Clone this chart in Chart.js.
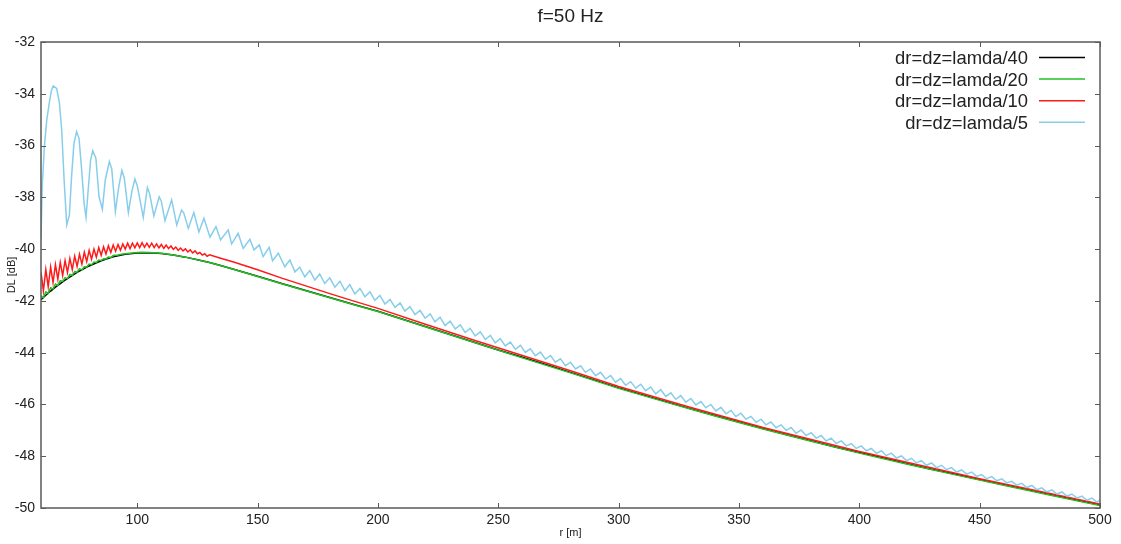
<!DOCTYPE html>
<html>
<head>
<meta charset="utf-8">
<script src="https://cdn.jsdelivr.net/npm/chart.js@4.4.1/dist/chart.umd.min.js"></script>
<style>
  html, body { margin: 0; padding: 0; background: #fff; }
</style>
</head>
<body>
<canvas id="chart" width="1121" height="544"></canvas>
<script>
// axis ticks
const xTicks = [100, 150, 200, 250, 300, 350, 400, 450, 500];
const yTicks = [-32, -34, -36, -38, -40, -42, -44, -46, -48, -50];

const seriesNames = ['dr=dz=lamda/40', 'dr=dz=lamda/20', 'dr=dz=lamda/10', 'dr=dz=lamda/5'];

// dr=dz=lamda/40
const blackR = [60, 62, 64, 66, 68, 70, 75, 80, 85, 90, 95, 100, 105, 110, 115, 120, 125, 130, 135, 140, 150,
  160, 170, 180, 190, 200, 210, 220, 230, 240, 250, 260, 270, 280, 290, 300, 310, 320, 330, 340, 350,
  360, 370, 380, 390, 400, 410, 420, 430, 440, 450, 460, 470, 480, 490, 500];
const blackDL = [-41.95, -41.78, -41.62, -41.47, -41.33, -41.2, -40.9, -40.65, -40.45, -40.3, -40.2, -40.15, -40.14, -40.17, -40.23, -40.31, -40.41, -40.52, -40.64, -40.78, -41.05,
  -41.33, -41.6, -41.87, -42.14, -42.4, -42.7, -43.0, -43.3, -43.6, -43.9, -44.18, -44.47, -44.76, -45.06, -45.36, -45.63, -45.9, -46.17, -46.43, -46.68,
  -46.93, -47.17, -47.4, -47.64, -47.86, -48.07, -48.29, -48.5, -48.7, -48.9, -49.1, -49.3, -49.5, -49.69, -49.88];

// dr=dz=lamda/20
const greenR = [60, 61, 62, 63, 64, 65, 66, 67, 68, 69, 70, 71, 72, 73, 74, 75, 76, 77, 78, 79, 80, 81, 82, 83, 84, 85, 86, 87, 88, 89, 90,
  92, 94, 96, 98, 100, 102, 105, 110, 115, 120, 130, 140, 150, 160, 170, 180, 190, 200, 220, 240, 260, 280, 300, 320, 340, 360, 380, 400, 420, 440, 460, 480, 500];
const greenDL = [-41.81, -41.88, -41.65, -41.71, -41.49, -41.54, -41.35, -41.40, -41.22, -41.25, -41.10, -41.14, -40.98, -41.01, -40.87, -40.89, -40.76, -40.80, -40.68, -40.69,
  -40.58, -40.60, -40.50, -40.52, -40.42, -40.44, -40.37, -40.38, -40.31, -40.32, -40.25,
  -40.23, -40.19, -40.17, -40.15, -40.13, -40.12, -40.13, -40.16, -40.23, -40.31, -40.52, -40.78, -41.06, -41.34, -41.61, -41.88, -42.15, -42.41, -43.01, -43.61, -44.2, -44.78,
  -45.38, -45.92, -46.45, -46.95, -47.42, -47.88, -48.31, -48.72, -49.12, -49.52, -49.9];

// dr=dz=lamda/10
const redR = [60, 61, 62, 63, 64, 65, 66, 67, 68, 69, 70, 71, 72, 73, 74, 75, 76, 77, 78, 79, 80, 81, 82, 83, 84, 85, 86, 87, 88, 89,
  90, 91, 92, 93, 94, 95, 96, 97, 98, 99, 100, 101, 102, 103, 104, 105, 106, 107, 108, 109, 110, 111, 112, 113, 114, 115, 116, 117, 118, 119,
  120, 121, 122, 123, 124, 125, 126, 127, 128, 129, 130,
  135, 140, 150, 160, 170, 180, 190, 200, 220, 240, 260, 280, 300, 330, 360, 400, 450, 500];
const redDL = [-40.90, -41.61, -40.79, -41.45, -40.69, -41.29, -40.60, -41.16, -40.51, -41.02, -40.44, -40.90, -40.36, -40.79, -40.27, -40.67, -40.20, -40.58, -40.12, -40.48,
  -40.05, -40.39, -40.00, -40.31, -39.94, -40.24, -39.91, -40.19, -39.87, -40.13,
  -39.84, -40.08, -39.82, -40.04, -39.80, -40.00, -39.77, -39.98, -39.77, -39.95, -39.76, -39.94, -39.75, -39.93, -39.77, -39.93, -39.77, -39.94, -39.80, -39.95,
  -39.82, -39.97, -39.84, -39.98, -39.88, -40.01, -39.92, -40.05, -39.96, -40.07,
  -39.99, -40.11, -40.03, -40.15, -40.07, -40.18, -40.13, -40.23, -40.18, -40.28, -40.22,
  -40.36, -40.50, -40.80, -41.12, -41.42, -41.72, -42.01, -42.29, -42.91, -43.52, -44.11, -44.70, -45.31, -46.12, -46.89, -47.82, -48.87, -49.85];

// dr=dz=lamda/5
const blueR = [60.0, 60.5, 61.4, 62.4, 63.5, 64.4, 65.1, 66.5, 67.6, 68.6, 69.6, 70.7, 71.8, 72.7, 73.7, 74.8, 75.8, 76.9, 77.9, 78.7,
  79.6, 80.6, 81.5, 82.8, 84.1, 85.5, 86.7, 88.4, 89.4, 90.9, 92.3, 93.6, 94.6, 96.3, 97.7, 99.0, 100.0, 102.5, 104.2, 105.1,
  106.9, 109.1, 110.0, 111.5, 114.3, 116.4, 118.4, 119.3, 121.2, 123.5, 125.6, 127.7, 130.2, 132.7, 134.6, 137.8, 139.2, 141.9, 144.0, 146.8,
  148.5, 150.7, 152.3, 154.8, 156.2, 158.6,
  161.3, 163.4, 165.5, 167.5, 169.6, 171.7, 173.8, 175.8, 177.9, 180.0,
  182.1, 184.2, 186.3, 188.3, 190.4, 192.5, 194.6, 196.7, 198.7, 200.8,
  202.9, 205.0, 207.1, 209.2, 211.2, 213.3, 215.4, 217.5, 219.6, 221.7,
  223.7, 225.8, 227.9, 230.0, 232.1, 234.2, 236.2, 238.3, 240.4, 242.5,
  244.6, 246.7, 248.7, 250.8, 252.9, 255.0, 257.1, 259.2, 261.2, 263.3,
  265.4, 267.5, 269.6, 271.7, 273.7, 275.8, 277.9, 280.0, 282.1, 284.2,
  286.2, 288.3, 290.4, 292.5, 294.6, 296.7, 298.7, 300.8, 302.9, 305.0,
  307.1, 309.2, 311.2, 313.3, 315.4, 317.5, 319.6, 321.7, 323.7, 325.8,
  327.9, 330.0, 332.1, 334.2, 336.2, 338.3, 340.4, 342.5, 344.6, 346.7,
  348.7, 350.8, 352.9, 355.0, 357.1, 359.2, 361.2, 363.3, 365.4, 367.5,
  369.6, 371.7, 373.7, 375.8, 377.9, 380.0, 382.1, 384.2, 386.2, 388.3,
  390.4, 392.5, 394.6, 396.7, 398.7, 400.8, 402.9, 405.0, 407.1, 409.2,
  411.2, 413.3, 415.4, 417.5, 419.6, 421.7, 423.7, 425.8, 427.9, 430.0,
  432.1, 434.2, 436.2, 438.3, 440.4, 442.5, 444.6, 446.7, 448.7, 450.8,
  452.9, 455.0, 457.1, 459.2, 461.2, 463.3, 465.4, 467.5, 469.6, 471.7,
  473.7, 475.8, 477.9, 480.0, 482.1, 484.2, 486.2, 488.3, 490.4, 492.5,
  494.6, 496.7, 498.7, 500.0];
const blueDL = [-39.6, -37.59, -36.04, -35.01, -34.31, -33.85, -33.70, -33.79, -34.31, -35.4, -37.33, -39.07, -38.68, -37.2, -35.91, -35.46, -35.72, -36.94, -38.23, -38.77,
  -37.72, -36.56, -36.2, -36.49, -37.97, -38.46, -37.33, -36.62, -36.9, -38.55, -37.6, -36.96, -37.25, -38.59, -37.8, -37.29, -37.55, -38.77, -37.62, -37.85,
  -38.72, -37.98, -38.15, -38.90, -38.10, -39.07, -38.49, -38.6, -39.20, -38.59, -39.34, -38.81, -39.54, -39.13, -39.65, -39.26, -39.80, -39.39, -39.97, -39.62,
  -40.03, -39.84, -40.29, -39.93, -40.45, -40.16,
  -40.68, -40.42, -40.88, -40.70, -41.07, -40.83, -41.20, -40.96, -41.33, -41.11,
  -41.47, -41.24, -41.60, -41.37, -41.73, -41.52, -41.84, -41.65, -41.98, -41.79,
  -42.12, -41.94, -42.25, -42.08, -42.39, -42.22, -42.53, -42.37, -42.67, -42.50,
  -42.81, -42.63, -42.95, -42.78, -43.08, -42.93, -43.22, -43.06, -43.35, -43.20,
  -43.49, -43.33, -43.62, -43.46, -43.74, -43.59, -43.87, -43.72, -43.99, -43.85,
  -44.12, -43.98, -44.25, -44.11, -44.37, -44.24, -44.50, -44.37, -44.63, -44.51,
  -44.76, -44.63, -44.89, -44.76, -45.02, -44.88, -45.14, -45.00, -45.26, -45.12,
  -45.37, -45.22, -45.47, -45.33, -45.59, -45.43, -45.69, -45.55, -45.80, -45.66,
  -45.91, -45.77, -46.02, -45.89, -46.13, -46.00, -46.25, -46.11, -46.36, -46.23,
  -46.47, -46.34, -46.57, -46.46, -46.69, -46.57, -46.79, -46.68, -46.90, -46.79,
  -47.00, -46.89, -47.11, -46.99, -47.20, -47.09, -47.30, -47.20, -47.41, -47.30,
  -47.51, -47.41, -47.60, -47.51, -47.70, -47.60, -47.79, -47.70, -47.89, -47.79,
  -47.98, -47.88, -48.07, -47.99, -48.17, -48.08, -48.26, -48.17, -48.35, -48.26,
  -48.44, -48.35, -48.52, -48.44, -48.61, -48.53, -48.69, -48.61, -48.78, -48.71,
  -48.87, -48.79, -48.95, -48.87, -49.03, -48.97, -49.12, -49.05, -49.21, -49.13,
  -49.29, -49.22, -49.38, -49.30, -49.46, -49.38, -49.54, -49.46, -49.62, -49.54,
  -49.70, -49.62, -49.77, -49.70];

const seriesColors = ['#000000', '#22c022', '#ff1a1a', '#87ceeb'];

Chart.defaults.font.family = "'Liberation Sans', Arial, sans-serif";
Chart.defaults.color = '#222';

const toPoints = (r, dl) => r.map((x, i) => ({ x, y: dl[i] }));

// frame with inward ticks on all four sides, plus a gnuplot-like key
const framePlugin = {
  id: 'frame',
  afterDraw(chart) {
    const { ctx, chartArea: a, scales } = chart;
    ctx.save();
    ctx.strokeStyle = '#5a5a5a';
    ctx.lineWidth = 1.5;
    ctx.strokeRect(a.left, a.top, a.right - a.left, a.bottom - a.top);
    ctx.lineWidth = 1;
    ctx.beginPath();
    xTicks.forEach(v => {
      const px = Math.round(scales.x.getPixelForValue(v)) + 0.5;
      ctx.moveTo(px, a.bottom); ctx.lineTo(px, a.bottom - 5);
      ctx.moveTo(px, a.top); ctx.lineTo(px, a.top + 5);
    });
    yTicks.forEach(v => {
      const py = Math.round(scales.y.getPixelForValue(v)) + 0.5;
      ctx.moveTo(a.left, py); ctx.lineTo(a.left + 5, py);
      ctx.moveTo(a.right, py); ctx.lineTo(a.right - 5, py);
    });
    ctx.stroke();

    // key
    ctx.font = "18.4px 'Liberation Sans', Arial, sans-serif";
    ctx.fillStyle = '#222';
    ctx.textAlign = 'right';
    ctx.textBaseline = 'middle';
    seriesNames.forEach((name, i) => {
      const y = 57.5 + i * 21.6;
      ctx.fillText(name, 1028, y + 1.5);
      ctx.strokeStyle = seriesColors[i];
      ctx.lineWidth = 1.5;
      ctx.beginPath();
      ctx.moveTo(1039, y);
      ctx.lineTo(1085, y);
      ctx.stroke();
    });
    ctx.restore();
  }
};

const lineStyle = (i, order) => ({
  borderColor: seriesColors[i],
  backgroundColor: seriesColors[i],
  borderWidth: 1.5,
  pointRadius: 0,
  tension: 0,
  fill: false,
  order
});

new Chart(document.getElementById('chart'), {
  type: 'line',
  data: {
    datasets: [
      { label: seriesNames[0], data: toPoints(blackR, blackDL), ...lineStyle(0, 3) },
      { label: seriesNames[1], data: toPoints(greenR, greenDL), ...lineStyle(1, 2) },
      { label: seriesNames[2], data: toPoints(redR, redDL), ...lineStyle(2, 1) },
      { label: seriesNames[3], data: toPoints(blueR, blueDL), ...lineStyle(3, 0) }
    ]
  },
  options: {
    responsive: false,
    animation: false,
    layout: { padding: { left: 0, right: 21, top: 0, bottom: 0 } },
    plugins: {
      legend: { display: false },
      tooltip: { enabled: false },
      title: {
        display: true,
        text: 'f=50 Hz',
        fullSize: false,
        color: '#222',
        font: { size: 19, weight: 'normal' },
        padding: { top: 5, bottom: 14.2 }
      }
    },
    scales: {
      x: {
        type: 'linear',
        min: 60,
        max: 500,
        afterBuildTicks: s => { s.ticks = xTicks.map(v => ({ value: v })); },
        afterFit: s => { s.height = 36; },
        grid: { display: false, drawTicks: false },
        border: { display: false },
        ticks: { font: { size: 14 }, color: '#222', padding: 4, maxRotation: 0, autoSkip: false },
        title: { display: true, text: 'r [m]', font: { size: 11 }, color: '#222', padding: { top: 0, bottom: 4 } }
      },
      y: {
        type: 'linear',
        min: -50,
        max: -32,
        afterBuildTicks: s => { s.ticks = yTicks.map(v => ({ value: v })); },
        afterFit: s => { s.width = 41; },
        grid: { display: false, drawTicks: false },
        border: { display: false },
        ticks: { font: { size: 14 }, color: '#222', padding: 6, autoSkip: false },
        title: { display: true, text: 'DL [dB]', font: { size: 11 }, color: '#222', padding: { top: 5, bottom: 0 } }
      }
    }
  },
  plugins: [framePlugin]
});
</script>
</body>
</html>
